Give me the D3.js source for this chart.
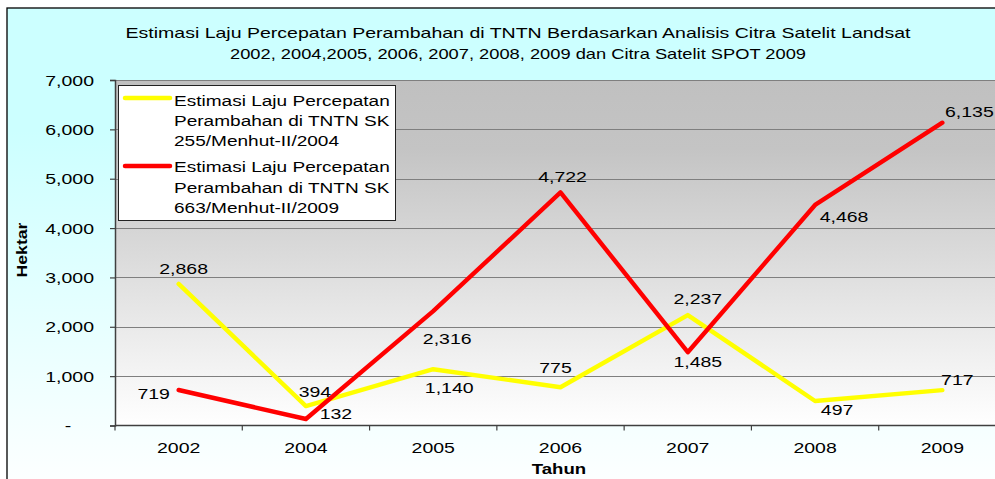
<!DOCTYPE html>
<html><head><meta charset="utf-8">
<script src="https://cdn.jsdelivr.net/npm/d3@7"></script>
<style>html,body{margin:0;padding:0;background:#fff;overflow:hidden}</style>
</head><body>
<svg id="c" width="995" height="479"></svg>
<script>
const categories = ["2002","2004","2005","2006","2007","2008","2009"];
const seriesNames = [
  ["Estimasi Laju Percepatan","Perambahan di TNTN SK","255/Menhut-II/2004"],
  ["Estimasi Laju Percepatan","Perambahan di TNTN SK","663/Menhut-II/2009"]
];
const sk255 = [2868, 394, 1140, 775, 2237, 497, 717];
const sk663 = [719, 132, 2316, 4722, 1485, 4468, 6135];
const yTicks = [0,1000,2000,3000,4000,5000,6000,7000];
const titleLines = ["Estimasi Laju Percepatan Perambahan di TNTN Berdasarkan Analisis Citra Satelit Landsat",
                    "2002, 2004,2005, 2006, 2007, 2008, 2009 dan Citra Satelit SPOT 2009"];
const xTitle = "Tahun", yTitle = "Hektar";

// label offsets (layout only)
const off255 = [[5,-15],[9,-15],[16,18],[-5,-20],[10,-17],[22,9],[15,-11]];
const off663 = [[-25,3],[30,-5],[14,27],[2,-16],[10,9],[29,12],[27,-11]];

const svg = d3.select("#c");
const FONT = "'Liberation Sans', Arial, sans-serif";
const SX = 1.3;
const defs = svg.append("defs");
const g1 = defs.append("linearGradient").attr("id","bg").attr("x1",0).attr("y1",0).attr("x2",0).attr("y2",1);
g1.append("stop").attr("offset","0").attr("stop-color","#CCFFFF");
g1.append("stop").attr("offset","0.25").attr("stop-color","#CCFFFF");
g1.append("stop").attr("offset","1").attr("stop-color","#FFFFFF");
const g2 = defs.append("linearGradient").attr("id","pa").attr("x1",0).attr("y1",0).attr("x2",0).attr("y2",1);
g2.append("stop").attr("offset","0").attr("stop-color","#C0C0C0");
g2.append("stop").attr("offset","0.2").attr("stop-color","#C4C4C4");
g2.append("stop").attr("offset","1").attr("stop-color","#FFFFFF");

svg.append("rect").attr("x",7).attr("y",8).attr("width",1000).attr("height",490)
  .attr("fill","url(#bg)").attr("stroke","#000").attr("stroke-width",1.3);

const L = 115, T = 80, B = 425.5, R = 1006;
const x = d3.scaleBand().domain(categories).range([L, R]).padding(0);
const y = d3.scaleLinear().domain([0,7000]).range([B, T]);

function stext(parent, px, py, str, opts={}) {
  const g = parent.append("g").attr("transform",`translate(${px},${py}) scale(${opts.sx||SX},1)`);
  return g.append("text").attr("x",0).attr("y",0)
    .attr("font-family",FONT).attr("font-size",opts.size||15)
    .attr("font-weight",opts.weight||"normal")
    .attr("text-anchor",opts.anchor||"middle").attr("fill","#000").text(str);
}

// title
titleLines.forEach((t,i)=>{
  svg.append("text").attr("x",518).attr("y",[38,59][i]).attr("text-anchor","middle")
    .attr("font-family",FONT).attr("font-size",14.5).attr("textLength",[785,576][i])
    .attr("lengthAdjust","spacingAndGlyphs").text(t);
});

// plot area
svg.append("rect").attr("x",L).attr("y",T).attr("width",R-L).attr("height",B-T).attr("fill","url(#pa)");
svg.append("g").selectAll("line").data(yTicks.filter(d=>d>0)).join("line")
  .attr("x1",L).attr("x2",R).attr("y1",d=>Math.round(y(d))+0.5).attr("y2",d=>Math.round(y(d))+0.5)
  .attr("stroke","#7f7f7f").attr("stroke-width",1.2);

// y axis
const ya = svg.append("g").attr("transform",`translate(${L},0)`)
  .call(d3.axisLeft(y).tickValues(yTicks).tickSize(5).tickFormat(()=>""));
ya.select(".domain").attr("stroke","#404040").attr("stroke-width",1.5);
ya.selectAll(".tick line").attr("stroke","#404040").attr("stroke-width",1.2);
yTicks.forEach(v=>{
  if (v===0) stext(svg, 68, y(v)+5, "-", {anchor:"middle"});
  else stext(svg, 94, y(v)+5.5, d3.format(",")(v), {anchor:"end"});
});

// x axis
svg.append("line").attr("x1",L).attr("x2",R).attr("y1",B).attr("y2",B).attr("stroke","#404040").attr("stroke-width",1.5);
svg.append("g").selectAll("line").data(categories.map(c=>x(c)).concat([x.range()[1]])).join("line")
  .attr("x1",d=>d).attr("x2",d=>d).attr("y1",B).attr("y2",B+5).attr("stroke","#404040").attr("stroke-width",1.2);
categories.forEach(c=>{
  stext(svg, x(c)+x.bandwidth()/2, 453, c);
});
stext(svg, 559, 474, xTitle, {weight:"bold", size:15.5, sx:1.2});
svg.append("text").attr("transform","translate(27,250) rotate(-90)").attr("text-anchor","middle")
  .attr("font-family",FONT).attr("font-weight","bold").attr("font-size",14)
  .attr("textLength",55).attr("lengthAdjust","spacingAndGlyphs").text(yTitle);

// lines
const cx = c=>x(c)+x.bandwidth()/2;
const line = d3.line().x((d,i)=>cx(categories[i])).y(d=>y(d));
svg.append("path").datum(sk255).attr("d",line).attr("fill","none").attr("stroke","#FFFF00")
  .attr("stroke-width",4.4).attr("stroke-linejoin","round").attr("stroke-linecap","round");
svg.append("path").datum(sk663).attr("d",line).attr("fill","none").attr("stroke","#FF0000")
  .attr("stroke-width",4.4).attr("stroke-linejoin","round").attr("stroke-linecap","round");

// data labels
[[sk255,off255],[sk663,off663]].forEach(([s,o])=>{
  s.forEach((v,i)=>{
    stext(svg, cx(categories[i])+o[i][0], y(v)+o[i][1]+5.5, d3.format(",")(v));
  });
});

// legend
svg.append("rect").attr("x",118.5).attr("y",85.5).attr("width",277).attr("height",135)
  .attr("fill","#fff").attr("stroke","#222").attr("stroke-width",1);
const legColors = ["#FFFF00","#FF0000"];
const legY = [98, 166];
const legBase = [[105.7,126,146.3],[172.3,192.5,212.5]];
seriesNames.forEach((lines,k)=>{
  svg.append("line").attr("x1",125).attr("x2",170).attr("y1",legY[k]).attr("y2",legY[k])
    .attr("stroke",legColors[k]).attr("stroke-width",4.5).attr("stroke-linecap","round");
  lines.forEach((t,j)=>stext(svg, 174, legBase[k][j], t, {anchor:"start", sx:1.27}));
});
</script>
</body></html>
